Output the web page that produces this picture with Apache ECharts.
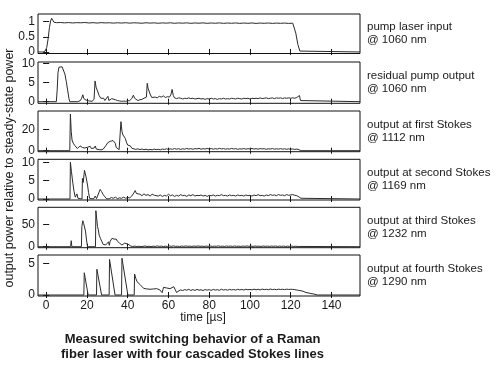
<!DOCTYPE html>
<html><head><meta charset="utf-8">
<script src="https://cdn.jsdelivr.net/npm/echarts@6/dist/echarts.min.js"></script>
<style>html,body{margin:0;padding:0;background:#fff}#c{width:500px;height:368px}</style>
</head><body><div id="c"></div>
<script>
// ---------- tick labels ----------
const xTicks = [0, 20, 40, 60, 80, 100, 120, 140];
const pumpTicks = [0, 0.5, 1];
const residualTicks = [0, 5, 10];
const stokes1Ticks = [0, 20];
const stokes2Ticks = [0, 5, 10];
const stokes3Ticks = [0, 50];
const stokes4Ticks = [0, 5];

// ---------- panel captions ----------
const captions = [
  ['pump laser input', '@ 1060 nm'],
  ['residual pump output', '@ 1060 nm'],
  ['output at first Stokes', '@ 1112 nm'],
  ['output at second Stokes', '@ 1169 nm'],
  ['output at third Stokes', '@ 1232 nm'],
  ['output at fourth Stokes', '@ 1290 nm']
];
const yTitle = 'output power relative to steady-state power';
const xTitle = 'time [µs]';
const titleLines = ['Measured switching behavior of a Raman', 'fiber laser with four cascaded Stokes lines'];

// ---------- series values [time µs, relative power] ----------
const pump = [[-4,0],[-1.5,0],[-0.5,0.03],[0.3,0.15],[1,0.45],[1.6,0.8],[2.2,1.02],[2.7,1.11],[3.2,1.05],[3.8,0.98],[4.5,0.96],
[5,0.965],[7,0.97],[9,0.958],[11,0.968],[13,0.955],[15,0.966],[17,0.96],[19,0.97],[21,0.954],[23,0.965],[25,0.952],[27,0.966],[29,0.956],[31,0.962],[33,0.95],[35,0.961],[37,0.952],[39,0.963],[41,0.949],[43,0.96],[45,0.955],[47,0.946],[49,0.961],[51,0.95],[53,0.958],[55,0.945],[57,0.957],[59,0.949],[61,0.96],[63,0.944],[65,0.956],[67,0.948],[69,0.958],[71,0.943],[73,0.955],[75,0.947],[77,0.958],[79,0.943],[81,0.954],[83,0.946],[85,0.957],[87,0.942],[89,0.953],[91,0.945],[93,0.956],[95,0.941],[97,0.953],[99,0.944],[101,0.955],[103,0.94],[105,0.952],[107,0.944],[109,0.954],[111,0.94],[113,0.951],[115,0.943],[117,0.952],[119,0.94],[121,0.948],
[121.6,0.93],[122.5,0.62],[123.5,0.25],[124.5,0.03],[125,0],[154,0]];

const residual = [[-4,0],[5,0],[5.4,3],[5.8,7.5],[6.3,9.0],[7,9.3],[7.8,9.1],[8.5,8.6],[9.2,7.2],[9.9,5.2],[10.6,2.8],[11.2,0.8],[11.6,0],[15.5,0],[16.2,0.4],[16.8,0.3],[17.4,0.9],[18,1.8],[18.5,0.8],[19,1.2],[19.6,0.4],[20.2,0.7],[21,0.2],[22.5,0.1],[23.5,0.6],[24,5.4],[24.5,3.8],[25.2,2.8],[26,1.6],[26.8,0.9],[27.5,0.5],[28.2,0.9],[28.8,0.3],[29.5,0.4],[30.3,1.4],[30.8,0.3],[31.5,0.5],[32.2,0.8],[33,0.4],[34,0.5],[35,0.3],[36,0.2],[37,0.1],[38,0.15],[39,0.1],[40,0.2],[41,0.3],[42,0.8],[42.8,1.7],[43.4,0.9],[44,0.4],[45,0.3],[46,0.5],[47,0.6],[48,0.9],[49.2,1.2],[49.6,4.8],[50,3.5],[50.4,4.0],[51,2.0],[51.8,1.1],[52.5,0.9],[53.5,1.2],[54.5,1.0],[55.5,1.4],[56.5,1.2],[57.5,1.5],[58.5,1.1],[59.5,1.3],[60.5,1.2],[61.2,1.8],[61.8,3.2],[62.4,1.6],
[63,1.0],[64,0.8],[65,1.0],[66,0.9],[67,0.7],[68,0.9],[69,0.8],[70,1.0],[71,0.8],[72,0.9],[73,0.7],[74,0.8],[75,0.9],[76,0.7],[77,0.8],[78,0.6],[79,0.8],[80,0.7],[81,0.9],[82,0.7],[83,0.8],[84,0.6],[85,0.8],[86,0.7],[87,0.9],[88,0.7],[89,0.8],[90,0.7],[91,0.9],[92,0.8],[93,0.7],[94,0.9],[95,0.8],[96,0.7],[97,0.9],[98,0.8],[99,0.9],[100,0.7],[101,0.9],[102,0.8],[103,0.9],[104,0.8],[105,1.0],[106,0.8],[107,0.9],[108,1.0],[109,0.8],[110,0.9],[111,1.0],[112,0.8],[113,1.0],[114,0.9],[115,1.0],[116,0.8],[117,1.0],[118,0.9],[119,1.0],[120,0.9],[121,1.0],[122,0.9],[123,1.1],[123.8,1.0],[124.3,1.6],[124.8,0.3],[125.3,0],[154,0]];

const stokes1 = [[-4,0],[11.6,0],[11.9,34.3],[12.3,18],[12.7,10],[13.3,7],[14,5],[14.6,3.5],[15.3,2],[16,2.5],[16.6,4.5],[17.2,5.3],[17.8,3],[18.4,1.2],[19,2.5],[19.6,1.5],[20.3,3.2],[21,2.2],[21.6,4.1],[22.2,2],[22.8,3],[23.5,2.5],[24.1,4.4],[24.6,1.5],[25.2,0.8],[26,1],[27,0.8],[28,1.5],[28.8,3],[29.5,5.3],[30.2,7.5],[30.9,9.2],[31.5,8.8],[32.2,10.6],[32.8,9.5],[33.4,10.3],[33.9,7],[34.4,3],[35,1.5],[35.8,1],[36.4,1.5],[36.7,27.2],[37.2,18],[37.7,14.7],[38.3,13.5],[38.8,11.6],[39.4,8],[40,5.3],[40.6,3.5],[41.3,4.5],[42.1,2.2],[43,1.5],[44,1.2],[45,1.8],
[46,1.0],[47,1.6],[48,0.9],[49,1.4],[50,0.7],[51,1.2],[52,0.8],[53,1.5],[54,1.0],[55,1.3],[56,0.8],[57,1.6],[58,1.1],[59,1.8],[60,1.2],[61,1.7],[62,1.3],[63,2.0],[64,1.4],[65,1.9],[66,1.2],[67,1.8],[68,1.4],[69,2.1],[70,1.5],[71,1.9],[72,1.3],[73,2.0],[74,1.6],[75,2.2],[76,1.4],[77,1.9],[78,1.5],[79,2.1],[80,1.6],[81,2.0],[82,1.4],[83,1.9],[84,1.5],[85,2.2],[86,1.6],[87,2.0],[88,1.4],[89,1.8],[90,1.5],[91,2.1],[92,1.6],[93,1.9],[94,1.3],[95,1.8],[96,1.5],[97,2.0],[98,1.4],[99,1.9],[100,1.6],[101,2.1],[102,1.5],[103,1.9],[104,1.4],[105,2.0],[106,1.6],[107,1.9],[108,1.3],[109,1.8],[110,1.5],[111,2.0],[112,1.4],[113,1.8],[114,1.5],[115,1.9],[116,1.4],[117,1.8],[118,1.3],[119,1.7],[120,1.4],[121,1.6],[122,1.2],[123,1.5],[124,1.0],[124.6,0.3],[125,0],[154,0]];

const stokes2 = [[-4,0],[11.7,0],[11.9,10.0],[12.4,7.5],[13.1,4.3],[13.7,2.0],[14.3,0.5],[15.1,1.4],[15.6,0.2],[16.5,0],[17.6,0],[17.8,5.6],[18.2,4.5],[18.8,7.8],[19.5,6.2],[20.3,3.8],[20.8,1.8],[21.3,0.2],[23.2,0],[24.1,0.8],[24.7,0.1],[25.6,0.6],[26.5,2.6],[27.2,2.0],[28,1.2],[28.8,0.6],[29.8,0],[31,0.1],[32,0.4],[33,0.2],[34,0.5],[35,0.1],[36,0.3],[37,0.2],[38,0.5],[39,0.2],[40,0.4],[41,0.3],[42,0.8],[43,1.6],[43.7,2.3],[44.3,1.5],[45,1.0],[46,1.3],[47,0.9],[48,1.4],[49,1.0],[50,1.2],[51,0.8],[52,1.3],[52.6,1.6],[53.2,1.0],[54,1.2],[55,0.8],[56,1.1],[57,0.7],[58,1.0],[59,0.8],[60,1.3],[61,0.9],[62,1.1],[63,0.7],[64,1.0],[65,0.8],[66,1.2],[67,0.9],[68,1.0],[69,0.7],[70,1.1],[71,0.9],[72,1.2],[73,0.8],[74,1.0],[75,0.9],[76,1.1],[77,0.8],[78,1.0],[79,0.7],[80,1.0],[81,0.9],[82,1.1],[83,0.8],[84,1.0],[85,0.9],[86,1.2],[87,0.9],[88,1.0],[89,0.8],[90,1.1],[91,0.9],[92,1.0],[93,0.8],[94,1.1],[95,0.9],[96,1.0],[97,0.8],[98,1.1],[99,0.9],[100,1.0],[101,0.8],[102,1.1],[103,0.9],[104,1.2],[105,0.9],[106,1.0],[107,0.8],[108,1.1],[109,0.9],[110,1.2],[111,1.0],[112,1.1],[113,0.9],[114,1.2],[115,1.0],[116,1.1],[117,0.9],[118,1.2],[119,1.0],[120,1.1],[121,1.2],[122,1.0],[123,0.9],[124,0.6],[125,0.2],[125.8,0],[154,0]];

const stokes3 = [[-4,0],[12.0,0],[12.3,13.4],[12.6,0],[17.3,0],[17.5,45],[18.0,58],[18.4,52],[18.7,56],[19.3,35],[19.8,15],[20.3,0],[24.2,0],[24.4,80.5],[25.2,45],[25.6,38],[26.0,26],[26.7,18],[27.4,11],[28.0,5],[28.5,1.5],[29.3,4],[30.0,6],[30.6,11],[31.0,3],[31.4,12],[31.8,16],[32.3,18.7],[32.8,15],[33.3,17],[33.8,14],[34.4,17],[35.0,12],[35.5,14],[36.0,8],[36.6,6],[37.2,3.7],[37.8,4],[38.5,8],[39.3,11],[40.1,6],[40.9,3.7],[41.5,1.5],[42.5,0.5],[43.5,1.2],[44.5,0.4],[45.5,1.0],[46.5,0.3],[47.5,0.8],[48.5,1.6],[49.5,0.5],[50.5,1.0],[51.5,0.3],[52.5,1.2],[53.5,0.6],[54.5,1.8],[55.5,0.7],[56.5,1.3],[57.5,0.4],[58.5,1.1],[59.5,0.6],[60.5,1.5],[61.5,0.8],[62.5,1.9],[63.5,0.7],[64.5,1.2],[65.5,0.5],[66.5,1.4],[67.5,0.8],[68.5,1.6],[69.5,0.9],[70.5,1.3],[71.5,0.6],[72.5,1.5],[73.5,0.8],[74.5,1.7],[75.5,0.9],[76.5,1.2],[77.5,0.6],[78.5,1.4],[79.5,0.8],[80.5,1.5],[81.5,0.7],[82.5,1.3],[83.5,0.9],[84.5,1.8],[85.5,0.8],[86.5,1.3],[87.5,0.6],[88.5,1.5],[89.5,0.9],[90.5,1.4],[91.5,0.7],[92.5,1.6],[93.5,0.8],[94.5,1.2],[95.5,0.6],[96.5,1.4],[97.5,0.9],[98.5,1.7],[99.5,0.8],[100.5,1.3],[101.5,0.7],[102.5,1.5],[103.5,0.9],[104.5,1.2],[105.5,0.6],[106.5,1.6],[107.5,0.8],[108.5,1.3],[109.5,0.7],[110.5,1.4],[111.5,0.9],[112.5,1.5],[113.5,0.7],[114.5,1.2],[115.5,0.8],[116.5,1.3],[117.5,0.6],[118.5,1.1],[119.5,0.7],[120.5,1.2],[121.5,0.6],[122.5,1.0],[123.5,0.5],[124.5,0.6],[125.3,0],[154,0]];

const stokes4 = [[-4,0],[18.5,0],[18.7,3.5],[20.6,0],[24.7,0],[24.9,4.05],[27.2,0],[30.9,0],[31.1,5.6],[33.8,0],[37.0,0],[37.2,5.8],[40.1,0],[43.2,0],[43.4,3.3],[44.0,2.6],[44.6,2.1],[45.4,1.8],[46.2,1.6],[47.0,1.3],[47.8,1.05],[48.6,1.15],[49.4,0.95],[50.2,1.1],[51.0,0.9],[51.8,1.2],[52.6,0.95],[53.4,1.1],[54.2,1.0],[55.0,1.15],[55.8,0.8],[56.5,0.5],[56.9,0.36],[57.6,1.2],[58.4,0.9],[59.2,1.1],[60.0,0.8],[60.8,1.0],[61.6,0.9],[62.6,1.3],[63.4,0.8],[64.0,0.4],[64.8,0.7],[65.8,0.8],[67,0.7],[68,0.85],[69,0.75],[70,0.9],[71,0.7],[72,0.85],[73,0.72],[74,0.88],[75,0.75],[76,0.82],[77,0.7],[78,0.86],[79,0.76],[80,0.84],[81,0.72],[82,0.87],[83,0.78],[84,0.83],[85,0.74],[86,0.9],[87,0.78],[88,0.85],[89,0.76],[90,0.88],[91,0.8],[92,0.86],[93,0.77],[94,0.9],[95,0.8],[96,0.87],[97,0.78],[98,0.9],[99,0.82],[100,0.88],[101,0.8],[102,0.92],[103,0.82],[104,0.9],[105,0.8],[106,0.93],[107,0.84],[108,0.9],[109,0.82],[110,0.94],[111,0.85],[112,0.9],[113,0.83],[114,0.92],[115,0.86],[116,0.9],[117,0.84],[118,0.92],[119,0.87],[120,0.9],[121,0.88],[122,0.84],[123,0.78],[124,0.72],[124.8,0.68],[126,0.6],[127,0.45],[128,0.36],[129,0.3],[130,0.22],[131.4,0.15],[132.2,0.05],[133,0],[154,0]];

const seriesData = [pump, residual, stokes1, stokes2, stokes3, stokes4];
const yTicks = [pumpTicks, residualTicks, stokes1Ticks, stokes2Ticks, stokes3Ticks, stokes4Ticks];

// ---------- layout (positions / scale ranges) ----------
const layout = [
  {top: 14,    h: 39.5, min: -0.05, max: 1.25},
  {top: 62,    h: 41.3, min: -0.42, max: 10.35},
  {top: 111,   h: 40.7, min: -0.95, max: 37.2},
  {top: 159.3, h: 40.7, min: -0.27, max: 10.8},
  {top: 207.3, h: 40.4, min: -2.2,  max: 88},
  {top: 255,   h: 41,   min: -0.16, max: 6.3}
];
const X_MIN = -4, X_MAX = 154;
const FONT = '"Liberation Sans", Arial, Helvetica, sans-serif';
const TXT = '#1a1a1a';

const grid = [], xAxis = [], yAxis = [], series = [], graphic = [];
layout.forEach((L, i) => {
  grid.push({left: 38, width: 322, top: L.top, height: L.h, show: true,
    borderColor: '#111', borderWidth: 1, backgroundColor: 'transparent'});
  const last = i === layout.length - 1;
  const tickStyle = {show: true, inside: true, length: 3, customValues: xTicks, lineStyle: {color: '#111', width: 1}};
  xAxis.push({type: 'value', gridIndex: i, min: X_MIN, max: X_MAX, position: 'bottom',
    axisLine: {show: false}, splitLine: {show: false}, axisTick: tickStyle,
    axisLabel: {show: last, customValues: xTicks, margin: 4, fontSize: 12, color: TXT, fontFamily: FONT}});
  xAxis.push({type: 'value', gridIndex: i, min: X_MIN, max: X_MAX, position: 'top',
    axisLine: {show: false}, splitLine: {show: false}, axisTick: tickStyle,
    axisLabel: {show: false}});
  const yt = {show: true, inside: true, length: 3, customValues: yTicks[i], lineStyle: {color: '#111', width: 1}};
  yAxis.push({type: 'value', gridIndex: i, min: L.min, max: L.max, position: 'left',
    axisLine: {show: false}, splitLine: {show: false}, axisTick: yt,
    axisLabel: {show: true, customValues: yTicks[i], margin: 3, fontSize: 12, color: TXT, fontFamily: FONT}});
  yAxis.push({type: 'value', gridIndex: i, min: L.min, max: L.max, position: 'right',
    axisLine: {show: false}, splitLine: {show: false}, axisTick: yt, axisLabel: {show: false}});
  series.push({type: 'line', xAxisIndex: i * 2, yAxisIndex: i * 2, data: seriesData[i],
    showSymbol: false, symbol: 'none', animation: false,
    lineStyle: {color: '#2b2b2b', width: 1}, clip: true});
  const cy = L.top + L.h / 2;
  graphic.push({type: 'text', x: 367, y: cy - 7, style: {text: captions[i][0], fill: TXT,
    font: '11.5px ' + FONT, align: 'left', verticalAlign: 'middle'}});
  graphic.push({type: 'text', x: 367, y: cy + 6, style: {text: captions[i][1], fill: TXT,
    font: '11.5px ' + FONT, align: 'left', verticalAlign: 'middle'}});
});
graphic.push({type: 'text', x: 10, y: 168, rotation: Math.PI / 2, style: {text: yTitle, fill: TXT,
  font: '12.5px ' + FONT, align: 'center', verticalAlign: 'middle'}});
graphic.push({type: 'text', x: 203, y: 317.5, style: {text: xTitle, fill: TXT,
  font: '12px ' + FONT, align: 'center', verticalAlign: 'middle'}});
graphic.push({type: 'text', x: 192.5, y: 339, style: {text: titleLines[0], fill: TXT,
  font: 'bold 13px ' + FONT, align: 'center', verticalAlign: 'middle'}});
graphic.push({type: 'text', x: 192.5, y: 354.5, style: {text: titleLines[1], fill: TXT,
  font: 'bold 13px ' + FONT, align: 'center', verticalAlign: 'middle'}});

const chart = echarts.init(document.getElementById('c'), null, {renderer: 'canvas'});
chart.setOption({animation: false, backgroundColor: '#fff', grid, xAxis, yAxis, series, graphic});
</script>
</body></html>
